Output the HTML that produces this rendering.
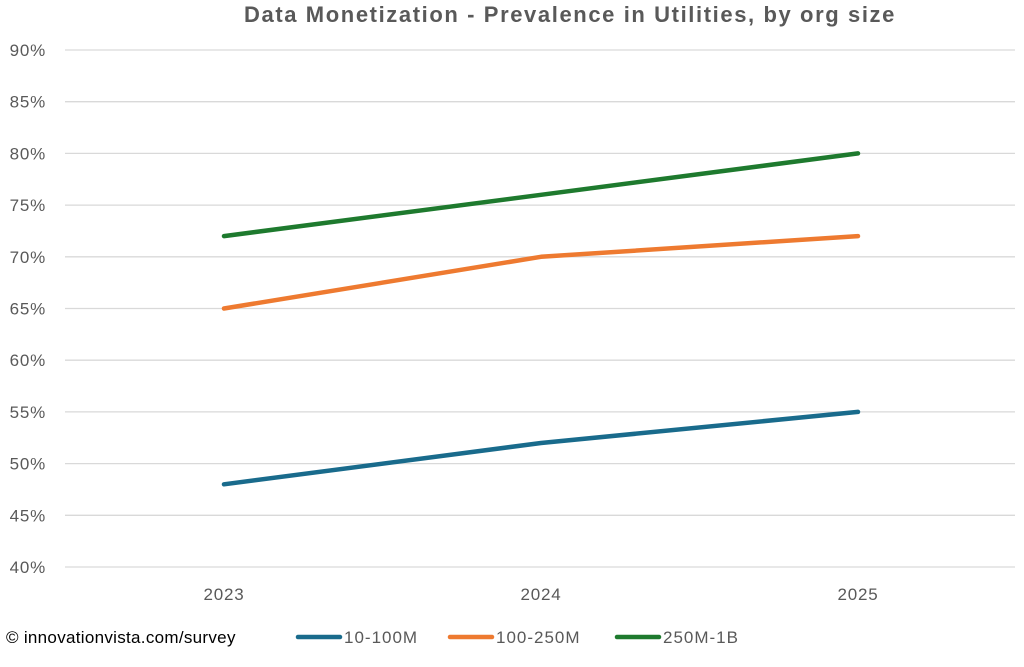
<!DOCTYPE html>
<html><head><style>
body{margin:0;background:#fff;width:1024px;height:662px;overflow:hidden;font-family:"Liberation Sans",sans-serif}
</style></head><body>
<svg width="1024" height="662" xmlns="http://www.w3.org/2000/svg" font-family="Liberation Sans, sans-serif">
<text x="570" y="22" text-anchor="middle" font-size="22" font-weight="bold" fill="#595959" letter-spacing="1.6">Data Monetization - Prevalence in Utilities, by org size</text>
<g stroke="#d9d9d9" stroke-width="1.3">
<line x1="65" x2="1015" y1="50" y2="50"/><line x1="65" x2="1015" y1="101.7" y2="101.7"/>
<line x1="65" x2="1015" y1="153.4" y2="153.4"/><line x1="65" x2="1015" y1="205.1" y2="205.1"/>
<line x1="65" x2="1015" y1="256.8" y2="256.8"/><line x1="65" x2="1015" y1="308.5" y2="308.5"/>
<line x1="65" x2="1015" y1="360.2" y2="360.2"/><line x1="65" x2="1015" y1="411.9" y2="411.9"/>
<line x1="65" x2="1015" y1="463.6" y2="463.6"/><line x1="65" x2="1015" y1="515.3" y2="515.3"/>
<line x1="65" x2="1015" y1="567" y2="567"/>
</g>
<g font-size="17" fill="#595959" text-anchor="end" letter-spacing="0.8">
<text x="46" y="56">90%</text><text x="46" y="107.7">85%</text><text x="46" y="159.4">80%</text>
<text x="46" y="211.1">75%</text><text x="46" y="262.8">70%</text><text x="46" y="314.5">65%</text>
<text x="46" y="366.2">60%</text><text x="46" y="417.9">55%</text><text x="46" y="469.6">50%</text>
<text x="46" y="521.3">45%</text><text x="46" y="573">40%</text>
</g>
<g font-size="17" fill="#595959" text-anchor="middle" letter-spacing="0.8">
<text x="224" y="600">2023</text><text x="541" y="600">2024</text><text x="858" y="600">2025</text>
</g>
<g fill="none" stroke-width="4.5" stroke-linecap="round" stroke-linejoin="round">
<polyline stroke="#196b8c" points="224,484.3 541,443 858,411.9"/>
<polyline stroke="#ee7a30" points="224,308.5 541,256.8 858,236.1"/>
<polyline stroke="#1e7a2e" points="224,236.1 541,194.8 858,153.4"/>
</g>
<text x="6" y="643" font-size="17" fill="#000" letter-spacing="0.3">© innovationvista.com/survey</text>
<g stroke-width="4.5" stroke-linecap="round">
<line x1="298" x2="340" y1="637" y2="637" stroke="#196b8c"/>
<line x1="450" x2="492" y1="637" y2="637" stroke="#ee7a30"/>
<line x1="617" x2="659" y1="637" y2="637" stroke="#1e7a2e"/>
</g>
<g font-size="17" fill="#595959" letter-spacing="1">
<text x="344" y="643">10-100M</text><text x="496" y="643">100-250M</text><text x="663" y="643">250M-1B</text>
</g>
</svg>
</body></html>
